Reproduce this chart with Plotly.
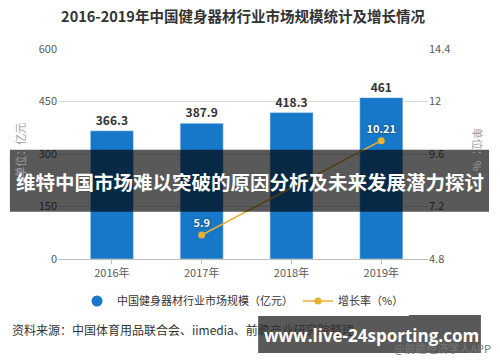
import plotly.graph_objects as go

years = ["2016年", "2017年", "2018年", "2019年"]
market_size = [366.3, 387.9, 418.3, 461]
growth_x = ["2017年", "2019年"]
growth_rate = [5.9, 10.21]
left_ticks = [0, 150, 300, 450, 600]
right_ticks = [4.8, 7.2, 9.6, 12, 14.4]
right_tick_text = ["4.8", "7.2", "9.6", "12", "14.4"]

BLUE = "#1777C8"
GOLD = "#E8B12F"
FONT = "Noto Sans CJK SC"

fig = go.Figure()
fig.add_trace(go.Bar(
    x=years, y=market_size, marker_color=BLUE, width=0.48,
    text=[f"{v:g}" for v in market_size], textposition="outside",
    textfont=dict(size=12, color="#333333", family=FONT, weight="bold"),
    cliponaxis=False, showlegend=False, name="中国健身器材行业市场规模（亿元）"))
fig.add_trace(go.Scatter(
    x=[None], y=[None], mode="markers", marker=dict(color=BLUE, size=11, symbol="circle"),
    name="中国健身器材行业市场规模（亿元）"))
fig.add_trace(go.Scatter(
    x=growth_x, y=growth_rate, yaxis="y2", mode="lines+markers+text",
    line=dict(color=GOLD, width=1.6), marker=dict(color=GOLD, size=7),
    text=[f"{v:g}" for v in growth_rate], textposition="top center",
    textfont=dict(size=11, color="white", family=FONT, weight="bold",
                  shadow="0px 0px 2px #1a2a40"),
    name="增长率（%）", cliponaxis=False))

fig.update_layout(
    width=500, height=362,
    margin=dict(l=58, r=72, t=49, b=103),
    paper_bgcolor="white", plot_bgcolor="white",
    font=dict(family=FONT, size=11, color="#595959"),
    title=dict(text="2016-2019年中国健身器材行业市场规模统计及增长情况",
               x=0.5, xref="paper", xanchor="center", y=0.953, yanchor="middle",
               font=dict(size=14.5, color="#333333", family=FONT, weight="bold")),
    xaxis=dict(type="category", categoryorder="array", categoryarray=years,
               range=[-0.6, 3.52], showgrid=False, showline=True, linecolor="#bfbfbf",
               ticks="outside", ticklen=4, tickcolor="#bfbfbf",
               tickfont=dict(size=11, color="#595959")),
    yaxis=dict(range=[0, 600], tickvals=left_ticks, showgrid=True, gridcolor="#d9d9d9",
               zeroline=False, ticks="", tickfont=dict(size=11, color="#595959")),
    yaxis2=dict(range=[4.8, 14.4], tickvals=right_ticks, ticktext=right_tick_text,
                overlaying="y", side="right", showgrid=False, zeroline=False,
                tickfont=dict(size=11, color="#595959")),
    legend=dict(orientation="h", x=0.5, xanchor="center", y=-0.2, yanchor="middle",
                font=dict(size=11, color="#333333", family=FONT), itemwidth=30,
                traceorder="normal"),
    bargap=0.5,
)

fig.add_annotation(text="单位：亿元", xref="paper", yref="paper", x=-0.103, y=0.52,
                   xanchor="center", yanchor="middle",
                   showarrow=False, textangle=-90, font=dict(size=11, color="#a0a0a0"))
fig.add_annotation(text="单位：%", xref="paper", yref="paper", x=1.135, y=0.52,
                   xanchor="center", yanchor="middle",
                   showarrow=False, textangle=90, font=dict(size=11, color="#a0a0a0"))
fig.add_annotation(text="资料来源：中国体育用品联合会、iimedia、前瞻产业研究院整理",
                   xref="paper", yref="paper", x=-0.13, xanchor="left", y=-0.338, yanchor="middle",
                   showarrow=False, font=dict(size=12, color="#333333"))
fig.add_annotation(text="@前瞻经济学人APP", xref="paper", yref="paper", x=1.176, xanchor="right",
                   y=-0.424, yanchor="middle", showarrow=False, font=dict(size=11, color="#777777"))

# overlay banners
fig.add_shape(type="rect", xref="paper", yref="paper", x0=-0.13, x1=1.165, y0=0.225, y1=0.52,
              fillcolor="rgba(0,0,0,0.65)", line_width=0, layer="above")
fig.add_annotation(text="<b>维特中国市场难以突破的原因分析及未来发展潜力探讨</b>", xref="paper", yref="paper",
                   x=0.519, y=0.371, xanchor="center", yanchor="middle",
                   showarrow=False, font=dict(size=19.5, color="white"))
fig.add_shape(type="rect", xref="paper", yref="paper", x0=0.541, x1=1.143, y0=-0.448, y1=-0.267,
              fillcolor="rgba(0,0,0,0.65)", line_width=0, layer="above")
fig.add_annotation(text="<b>www.live-24sporting.com</b>", xref="paper", yref="paper",
                   x=0.847, y=-0.362, xanchor="center", yanchor="middle", showarrow=False,
                   font=dict(size=17, color="white", family="Open Sans"))

fig.write_html("out.html", config={"displayModeBar": False},
               post_script="document.body.style.margin='0';")
